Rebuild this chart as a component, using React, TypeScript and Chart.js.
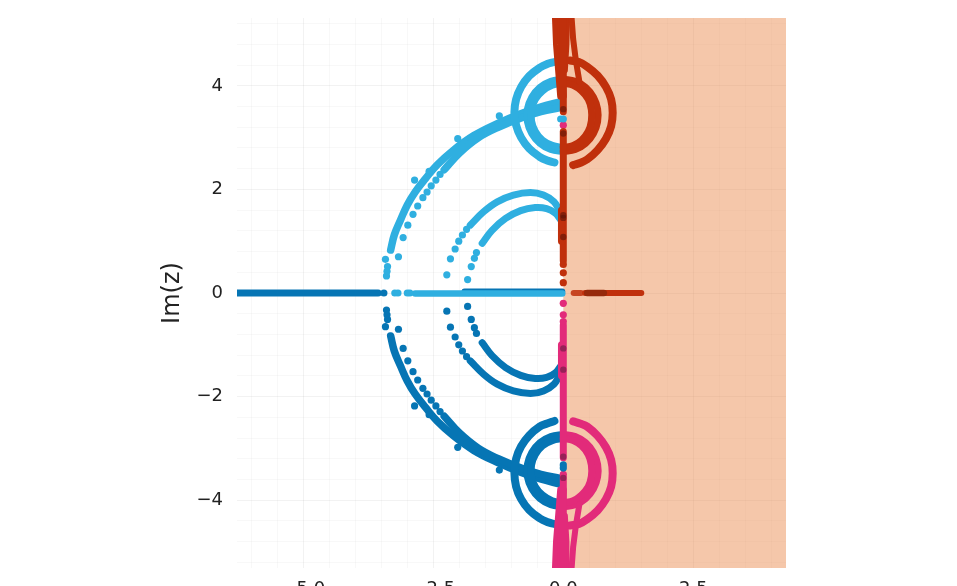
import React, { useEffect, useRef } from "react";
import { Chart, registerables } from "chart.js";

Chart.register(...registerables);

type P = [number, number];

const xRange: P = [-6.275, 4.283];
const yRange: P = [-5.31, 5.31];
const shade: P[] = [[0, 5.31], [4.3, 5.31]];
const xTickLabels: Record<string, string> = { "-5": "\u22125.0", "-2.5": "\u22122.5", "0": "0.0", "2.5": "2.5" };
const yTickLabels: Record<string, string> = { "-4": "\u22124", "-2": "\u22122", "0": "0", "2": "2", "4": "4" };

// upper half plane, left: light blue
const lightOuterRing: P[] = [[-0.17, 4.46], [-0.31, 4.42], [-0.455, 4.35], [-0.656, 4.19], [-0.81, 3.98], [-0.907, 3.74], [-0.94, 3.49], [-0.907, 3.24], [-0.81, 3.0], [-0.656, 2.79], [-0.455, 2.63], [-0.31, 2.56], [-0.17, 2.52]];
const lightRingA: P[] = [[0, 4.13], [-0.24, 4.09], [-0.45, 3.97], [-0.606, 3.78], [-0.69, 3.55], [-0.69, 3.31], [-0.606, 3.08], [-0.45, 2.89], [-0.24, 2.77], [0, 2.73]];
const lightRingB: P[] = [[0, 4.05], [-0.212, 4.01], [-0.399, 3.9], [-0.537, 3.74], [-0.61, 3.54], [-0.61, 3.32], [-0.537, 3.12], [-0.399, 2.95], [-0.212, 2.85], [0, 2.81]];
const lightArcA: P[] = [[-3.32, 0.83], [-3.25, 1.12], [-3.13, 1.41], [-3.0, 1.7], [-2.85, 1.95], [-2.65, 2.21], [-2.43, 2.47], [-2.11, 2.76], [-1.72, 3.04], [-1.27, 3.27], [-0.82, 3.46], [-0.44, 3.59], [-0.06, 3.69]];
const lightArcB: P[] = [[-2.29, 2.38], [-2.0, 2.7], [-1.63, 3.0], [-1.25, 3.2], [-0.81, 3.38], [-0.43, 3.5], [-0.06, 3.58]];
const lightArcDots: P[] = [[-3.17, 0.7], [-3.08, 1.07], [-2.99, 1.31], [-2.89, 1.52], [-2.8, 1.68], [-2.7, 1.84], [-2.62, 1.95], [-2.54, 2.07], [-2.45, 2.18], [-2.37, 2.29], [-2.86, 2.18], [-2.03, 2.98], [-1.23, 3.42], [-2.58, 2.35], [-3.4, 0.33], [-3.38, 0.51], [-3.42, 0.65], [-3.39, 0.42], [-0.05, 3.36]];
const lightArchUpper: P[] = [[-1.79, 1.31], [-1.53, 1.57], [-1.27, 1.76], [-0.96, 1.89], [-0.63, 1.94], [-0.38, 1.89], [-0.18, 1.76], [-0.06, 1.57]];
const lightArchLower: P[] = [[-1.56, 0.96], [-1.37, 1.21], [-1.11, 1.44], [-0.82, 1.59], [-0.54, 1.65], [-0.32, 1.63], [-0.15, 1.54], [-0.05, 1.41]];
const lightArchDots: P[] = [[-2.24, 0.35], [-2.17, 0.66], [-2.08, 0.85], [-2.01, 1.0], [-1.94, 1.12], [-1.86, 1.23], [-1.84, 0.26], [-1.77, 0.51], [-1.71, 0.67], [-1.67, 0.78]];
const lightAxis: P[] = [[-2.85, -0.01], [-2.4, -0.01], [-1.9, -0.01], [-1.4, -0.01], [-0.9, -0.01], [-0.4, -0.01], [-0.02, -0.01]];
const lightAxisDots: P[] = [[-3.24, 0], [-3.18, 0], [-3.0, 0], [-2.95, 0]];
const lightColumnDots: P[] = [[0, 3.36]];

// lower half plane, left: dark blue
const darkOuterRing: P[] = [[-0.17, -2.47], [-0.31, -2.52], [-0.455, -2.58], [-0.656, -2.75], [-0.81, -2.96], [-0.907, -3.2], [-0.94, -3.47], [-0.907, -3.74], [-0.81, -3.98], [-0.656, -4.19], [-0.455, -4.35], [-0.31, -4.42], [-0.17, -4.46]];
const darkRingA: P[] = [[0, -2.73], [-0.24, -2.77], [-0.45, -2.89], [-0.606, -3.08], [-0.69, -3.31], [-0.69, -3.55], [-0.606, -3.78], [-0.45, -3.97], [-0.24, -4.09], [0, -4.13]];
const darkRingB: P[] = [[0, -2.81], [-0.212, -2.85], [-0.399, -2.95], [-0.537, -3.12], [-0.61, -3.32], [-0.61, -3.54], [-0.537, -3.74], [-0.399, -3.9], [-0.212, -4.01], [0, -4.05]];
const darkArcA: P[] = [[-3.32, -0.83], [-3.25, -1.12], [-3.13, -1.41], [-3.0, -1.7], [-2.85, -1.95], [-2.65, -2.21], [-2.43, -2.47], [-2.11, -2.76], [-1.72, -3.04], [-1.27, -3.27], [-0.82, -3.46], [-0.44, -3.59], [-0.06, -3.69]];
const darkArcB: P[] = [[-2.29, -2.38], [-2.0, -2.7], [-1.63, -3.0], [-1.25, -3.2], [-0.81, -3.38], [-0.43, -3.5], [-0.06, -3.58]];
const darkArcDots: P[] = [[-3.17, -0.7], [-3.08, -1.07], [-2.99, -1.31], [-2.89, -1.52], [-2.8, -1.68], [-2.7, -1.84], [-2.62, -1.95], [-2.54, -2.07], [-2.45, -2.18], [-2.37, -2.29], [-2.86, -2.18], [-2.03, -2.98], [-1.23, -3.42], [-2.58, -2.35], [-3.4, -0.33], [-3.38, -0.51], [-3.42, -0.65], [-3.39, -0.42]];
const darkArchUpper: P[] = [[-1.79, -1.31], [-1.53, -1.57], [-1.27, -1.76], [-0.96, -1.89], [-0.63, -1.94], [-0.38, -1.89], [-0.18, -1.76], [-0.06, -1.57]];
const darkArchLower: P[] = [[-1.56, -0.96], [-1.37, -1.21], [-1.11, -1.44], [-0.82, -1.59], [-0.54, -1.65], [-0.32, -1.63], [-0.15, -1.54], [-0.05, -1.41]];
const darkArchDots: P[] = [[-2.24, -0.35], [-2.17, -0.66], [-2.08, -0.85], [-2.01, -1.0], [-1.94, -1.12], [-1.86, -1.23], [-1.84, -0.26], [-1.77, -0.51], [-1.71, -0.67], [-1.67, -0.78]];
const darkAxisFar: P[] = [[-6.27, 0], [-6.1, 0], [-5.9, 0], [-5.7, 0], [-5.5, 0], [-5.3, 0], [-5.1, 0], [-4.9, 0], [-4.7, 0], [-4.5, 0], [-4.3, 0], [-4.1, 0], [-3.9, 0], [-3.7, 0], [-3.56, 0]];
const darkAxisNear: P[] = [[-1.9, 0.03], [-1.5, 0.03], [-0.8, 0.03], [-0.02, 0.03]];
const darkAxisDots: P[] = [[-3.45, 0]];
const darkColumnDots: P[] = [[0, -3.32], [0, -3.38]];

// right side, upper: red
const redOuterRing: P[] = [[0.13, 4.49], [0.3, 4.46], [0.46, 4.37], [0.66, 4.2], [0.82, 3.98], [0.92, 3.74], [0.95, 3.48], [0.92, 3.22], [0.82, 2.98], [0.66, 2.76], [0.46, 2.58], [0.32, 2.51], [0.19, 2.47]];
const redRingA: P[] = [[0, 4.13], [0.23, 4.09], [0.43, 3.97], [0.58, 3.78], [0.66, 3.55], [0.66, 3.31], [0.58, 3.08], [0.43, 2.89], [0.23, 2.77], [0, 2.73]];
const redRingB: P[] = [[0, 4.05], [0.19, 4.01], [0.35, 3.9], [0.48, 3.74], [0.54, 3.54], [0.54, 3.32], [0.48, 3.12], [0.35, 2.95], [0.19, 2.85], [0, 2.81]];
const redLegA: P[] = [[-0.15, 5.31], [-0.13, 4.8], [-0.09, 4.3], [-0.05, 3.8]];
const redLegB: P[] = [[-0.05, 5.31], [-0.04, 4.8], [-0.02, 4.3], [0, 3.8]];
const redLegC: P[] = [[0.07, 5.31], [0.06, 4.8], [0.03, 4.3]];
const redLegD: P[] = [[0.16, 5.31], [0.19, 4.9], [0.24, 4.5], [0.29, 4.2], [0.31, 4.08]];
const redColumnLow: P[] = [[0, 0.62], [0, 1.0], [0, 1.5], [0, 2.0], [0, 2.6], [0, 3.12]];
const redColumnHigh: P[] = [[0, 3.5], [0, 4.0], [0, 4.5], [0, 5.31]];
const redColumnSide: P[] = [[-0.03, 1.0], [-0.04, 1.3], [-0.03, 1.6]];
const redDots: P[] = [[0, 0.2], [0, 0.39], [0, 0.55]];
const redAxis: P[] = [[0.2, 0], [0.34, 0]];
const redAxisRun: P[] = [[0.42, 0], [0.7, 0], [1.0, 0], [1.3, 0], [1.5, 0]];
const redAxisDark: P[] = [[0.46, 0], [0.6, 0], [0.78, 0]];
const redDarkDots: P[] = [[0, 1.08], [0, 1.45], [0, 1.5], [0, 3.08], [0, 3.55]];

// right side, lower: pink
const pinkOuterRing: P[] = [[0.19, -2.48], [0.32, -2.52], [0.46, -2.58], [0.66, -2.76], [0.82, -2.98], [0.92, -3.22], [0.95, -3.48], [0.92, -3.74], [0.82, -3.98], [0.66, -4.2], [0.46, -4.37], [0.3, -4.46], [0.13, -4.49]];
const pinkRingA: P[] = [[0, -2.73], [0.23, -2.77], [0.43, -2.89], [0.58, -3.08], [0.66, -3.31], [0.66, -3.55], [0.58, -3.78], [0.43, -3.97], [0.23, -4.09], [0, -4.13]];
const pinkRingB: P[] = [[0, -2.81], [0.19, -2.85], [0.35, -2.95], [0.48, -3.12], [0.54, -3.32], [0.54, -3.54], [0.48, -3.74], [0.35, -3.9], [0.19, -4.01], [0, -4.05]];
const pinkLegA: P[] = [[-0.15, -5.31], [-0.13, -4.8], [-0.09, -4.3], [-0.05, -3.8]];
const pinkLegB: P[] = [[-0.05, -5.31], [-0.04, -4.8], [-0.02, -4.3], [0, -3.8]];
const pinkLegC: P[] = [[0.07, -5.31], [0.06, -4.8], [0.03, -4.3]];
const pinkLegD: P[] = [[0.16, -5.31], [0.19, -4.9], [0.24, -4.5], [0.29, -4.2], [0.31, -4.08]];
const pinkColumnLow: P[] = [[0, -0.62], [0, -1.0], [0, -1.5], [0, -2.0], [0, -2.6], [0, -3.18]];
const pinkColumnHigh: P[] = [[0, -3.55], [0, -4.0], [0, -4.5], [0, -5.31]];
const pinkColumnSide: P[] = [[-0.03, -1.0], [-0.04, -1.3], [-0.03, -1.6]];
const pinkDots: P[] = [[0, -0.2], [0, -0.42], [0, -0.55], [0, 3.24], [0, -3.5]];
const pinkDarkDots: P[] = [[0, -1.07], [0, -1.48], [0, -3.16], [0, -3.57]];

const LIGHT = "#2fafe0";
const DARK = "#0675b4";
const RED = "#c0300c";
const PINK = "#e22b7a";
const RED_DEEP = "rgba(90,20,8,0.6)";
const PINK_DEEP = "rgba(90,25,60,0.55)";
const RED_AXIS_DEEP = "#962a0c";

const curve = (pts: P[], color: string, width = 7.5, tension = 0.4) => ({
  data: pts.map(([x, y]) => ({ x, y })),
  showLine: true,
  borderColor: color,
  backgroundColor: color,
  borderWidth: width,
  borderCapStyle: "round",
  borderJoinStyle: "round",
  tension,
  pointRadius: 0,
});
const dots = (pts: P[], color: string, r = 3.6) => ({
  data: pts.map(([x, y]) => ({ x, y })),
  showLine: false,
  backgroundColor: color,
  borderWidth: 0,
  pointRadius: r,
});

export default function App() {
  const ref = useRef<HTMLCanvasElement>(null);
  useEffect(() => {
    if (!ref.current) return;
    const layers: any[] = [
      {
        data: shade.map(([x, y]) => ({ x, y })),
        showLine: true,
        fill: "start",
        backgroundColor: "rgba(233,131,66,0.45)",
        borderWidth: 0,
        pointRadius: 0,
      },
      curve(darkAxisFar, DARK, 7, 0),
      curve(darkAxisNear, DARK, 6, 0),
      dots(darkAxisDots, DARK),
      curve(lightAxis, LIGHT, 6.5, 0),
      dots(lightAxisDots, LIGHT),
      curve(darkArcA, DARK, 7.5),
      curve(darkArcB, DARK, 7.5),
      dots(darkArcDots, DARK),
      curve(darkArchUpper, DARK, 7),
      curve(darkArchLower, DARK, 7),
      dots(darkArchDots, DARK),
      curve(darkOuterRing, DARK, 8),
      curve(darkRingA, DARK, 7),
      curve(darkRingB, DARK, 7),
      curve(lightArcA, LIGHT, 7.5),
      curve(lightArcB, LIGHT, 7.5),
      dots(lightArcDots, LIGHT),
      curve(lightArchUpper, LIGHT, 7),
      curve(lightArchLower, LIGHT, 7),
      dots(lightArchDots, LIGHT),
      curve(lightOuterRing, LIGHT, 8),
      curve(lightRingA, LIGHT, 7),
      curve(lightRingB, LIGHT, 7),
      curve(pinkOuterRing, PINK, 8),
      curve(pinkRingA, PINK, 7),
      curve(pinkRingB, PINK, 7),
      curve(pinkLegA, PINK, 7, 0),
      curve(pinkLegB, PINK, 7, 0),
      curve(pinkLegC, PINK, 6, 0),
      curve(pinkLegD, PINK, 6, 0),
      curve(pinkColumnLow, PINK, 7, 0),
      curve(pinkColumnHigh, PINK, 7, 0),
      curve(pinkColumnSide, PINK, 7, 0),
      dots(pinkDots, PINK),
      dots(pinkDarkDots, PINK_DEEP, 3.2),
      dots(darkColumnDots, DARK),
      curve(redOuterRing, RED, 8),
      curve(redRingA, RED, 7),
      curve(redRingB, RED, 7),
      curve(redLegA, RED, 7, 0),
      curve(redLegB, RED, 7, 0),
      curve(redLegC, RED, 6, 0),
      curve(redLegD, RED, 6, 0),
      curve(redColumnLow, RED, 7, 0),
      curve(redColumnHigh, RED, 7, 0),
      curve(redColumnSide, RED, 7, 0),
      dots(redDots, RED),
      dots(redDarkDots, RED_DEEP, 3.2),
      dots(lightColumnDots, LIGHT),
      curve(redAxis, "rgba(192,48,12,0.85)", 6, 0),
      curve(redAxisRun, RED, 6, 0),
      curve(redAxisDark, RED_AXIS_DEEP, 6.5, 0),
    ];
    layers.forEach((l, i) => (l.order = -i));
    const gridColor = (ctx: any, step: number) => {
      const v = ctx.tick ? ctx.tick.value : 0;
      return Math.abs(v / step - Math.round(v / step)) < 1e-6 ? "rgba(0,0,0,0.05)" : "rgba(0,0,0,0.028)";
    };
    const chart = new Chart(ref.current, {
      type: "scatter",
      data: { datasets: layers },
      options: {
        animation: false,
        responsive: false,
        devicePixelRatio: 1,
        layout: { padding: { left: 158, right: 171, top: 18, bottom: 0 } },
        plugins: { legend: { display: false }, tooltip: { enabled: false } },
        scales: {
          x: {
            type: "linear",
            min: xRange[0],
            max: xRange[1],
            border: { display: false },
            grid: { drawTicks: false, lineWidth: 1, color: (c: any) => gridColor(c, 2.5) },
            afterFit: (s: any) => { s.height = 18; s.paddingLeft = 0; s.paddingRight = 0; },
            ticks: {
              stepSize: 0.5,
              includeBounds: false,
              autoSkip: false,
              maxRotation: 0,
              minRotation: 0,
              padding: 11,
              color: "#222",
              font: { family: "DejaVu Sans", size: 18 },
              callback: (v: any) => xTickLabels[String(Math.round(v * 10) / 10)] ?? "",
            },
          },
          y: {
            type: "linear",
            min: yRange[0],
            max: yRange[1],
            border: { display: false },
            grid: { drawTicks: false, lineWidth: 1, color: (c: any) => gridColor(c, 2) },
            afterFit: (s: any) => { s.width = 79; s.paddingTop = 0; s.paddingBottom = 0; },
            title: { display: true, text: "Im(z)", color: "#222", padding: 0, font: { family: "DejaVu Sans", size: 24 } },
            ticks: {
              stepSize: 0.4,
              includeBounds: false,
              autoSkip: false,
              padding: 14,
              color: "#222",
              font: { family: "DejaVu Sans", size: 18 },
              callback: (v: any) => yTickLabels[String(Math.round(v * 10) / 10)] ?? "",
            },
          },
        },
      } as any,
    } as any);
    return () => chart.destroy();
  }, []);
  return (
    <div style={{ position: "fixed", left: 0, top: 0, width: 957, height: 586, background: "#fff", overflow: "hidden" }}>
      <canvas ref={ref} width={957} height={586} style={{ display: "block", filter: "blur(0.6px)" }} />
    </div>
  );
}
